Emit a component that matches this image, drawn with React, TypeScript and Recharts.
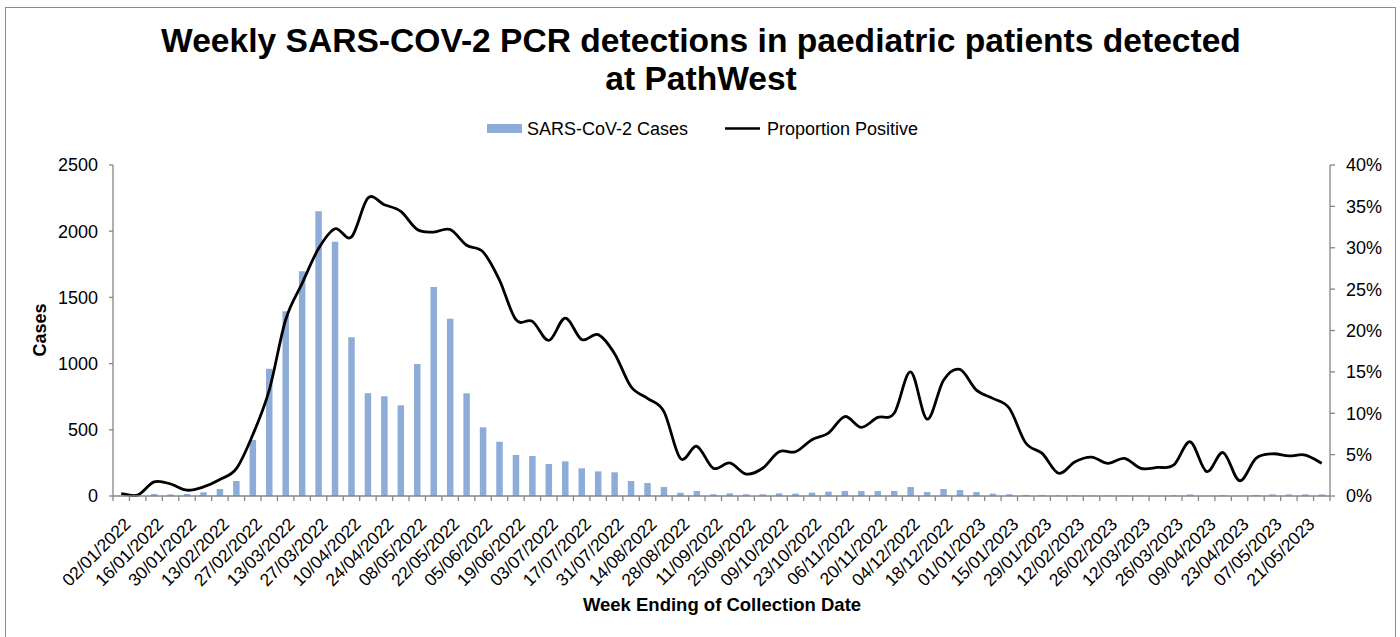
import React from 'react';
import { ComposedChart, Bar, Line, XAxis, YAxis } from 'recharts';

// week ending dates (Sundays)
const weeks = [
  '02/01/2022', '09/01/2022', '16/01/2022', '23/01/2022', '30/01/2022', '06/02/2022', '13/02/2022', '20/02/2022',
  '27/02/2022', '06/03/2022', '13/03/2022', '20/03/2022', '27/03/2022', '03/04/2022', '10/04/2022', '17/04/2022',
  '24/04/2022', '01/05/2022', '08/05/2022', '15/05/2022', '22/05/2022', '29/05/2022', '05/06/2022', '12/06/2022',
  '19/06/2022', '26/06/2022', '03/07/2022', '10/07/2022', '17/07/2022', '24/07/2022', '31/07/2022', '07/08/2022',
  '14/08/2022', '21/08/2022', '28/08/2022', '04/09/2022', '11/09/2022', '18/09/2022', '25/09/2022', '02/10/2022',
  '09/10/2022', '16/10/2022', '23/10/2022', '30/10/2022', '06/11/2022', '13/11/2022', '20/11/2022', '27/11/2022',
  '04/12/2022', '11/12/2022', '18/12/2022', '25/12/2022', '01/01/2023', '08/01/2023', '15/01/2023', '22/01/2023',
  '29/01/2023', '05/02/2023', '12/02/2023', '19/02/2023', '26/02/2023', '05/03/2023', '12/03/2023', '19/03/2023',
  '26/03/2023', '02/04/2023', '09/04/2023', '16/04/2023', '23/04/2023', '30/04/2023', '07/05/2023', '14/05/2023',
  '21/05/2023', '28/05/2023',
];

const cases = [
  2, 3, 15, 12, 15, 28, 53, 113, 423, 961, 1395, 1697, 2150, 1921, 1199, 776,
  753, 685, 997, 1579, 1339, 776, 519, 410, 310, 302, 242, 262, 209, 186, 179, 113,
  98, 68, 25, 38, 13, 20, 13, 13, 20, 18, 25, 33, 38, 38, 38, 38,
  68, 30, 53, 45, 30, 18, 13, 8, 8, 5, 6, 5, 5, 5, 3, 3,
  6, 12, 3, 6, 3, 8, 12, 12, 12, 12,
];

// % positive
const proportion = [
  0.3, 0.1, 1.7, 1.45, 0.7, 1.1, 2.0, 3.3, 7.4, 12.8, 21.3, 25.7, 29.9, 32.3, 31.3, 36.0,
  35.2, 34.4, 32.2, 31.9, 32.2, 30.3, 29.5, 26.1, 21.3, 21.1, 18.8, 21.5, 18.9, 19.5, 17.2, 13.2,
  11.8, 10.2, 4.55, 6.0, 3.35, 4.0, 2.65, 3.35, 5.35, 5.35, 6.8, 7.6, 9.6, 8.3, 9.5, 10.0,
  15.0, 9.3, 14.0, 15.3, 12.8, 11.8, 10.6, 6.4, 5.15, 2.75, 4.15, 4.7, 3.95, 4.55, 3.35, 3.45,
  3.75, 6.55, 2.95, 5.25, 1.85, 4.55, 5.1, 4.85, 4.95, 3.95,
];

const caseTicks = [0, 500, 1000, 1500, 2000, 2500];
const pctTicks = [0, 5, 10, 15, 20, 25, 30, 35, 40];

const data = weeks.map((week, i) => ({ week, cases: cases[i], pct: proportion[i] }));

const FONT = '"Liberation Sans", Arial, sans-serif';
const AXIS = '#868686';
const BAR = '#8EACD8';
const PLOT_L = 113;
const PLOT_R = 1330;
const PLOT_B = 496;
const BAND = (PLOT_R - PLOT_L) / weeks.length;

// excel-style smoothed line (catmull-rom through the points)
const smoothCurve = (context: any) => {
  let pts: number[][] = [];
  return {
    areaStart() {},
    areaEnd() {},
    lineStart() {
      pts = [];
    },
    point(x: number, y: number) {
      pts.push([+x, +y]);
    },
    lineEnd() {
      if (!pts.length) return;
      context.moveTo(pts[0][0], pts[0][1]);
      for (let i = 0; i < pts.length - 1; i++) {
        const p0 = pts[i - 1] || pts[i];
        const p1 = pts[i];
        const p2 = pts[i + 1];
        const p3 = pts[i + 2] || p2;
        const t = 1 / 6;
        context.bezierCurveTo(
          p1[0] + (p2[0] - p0[0]) * t,
          p1[1] + (p2[1] - p0[1]) * t,
          p2[0] - (p3[0] - p1[0]) * t,
          p2[1] - (p3[1] - p1[1]) * t,
          p2[0],
          p2[1]
        );
      }
    },
  };
};

function WeekTick(props: any) {
  const { x, payload, index } = props;
  const left = x - BAND / 2;
  const tx = x + 6;
  const ty = 521;
  return (
    <g>
      <line x1={left} x2={left} y1={PLOT_B} y2={PLOT_B + 5} stroke={AXIS} strokeWidth={1.3} />
      {index === weeks.length - 1 && (
        <line x1={x + BAND / 2} x2={x + BAND / 2} y1={PLOT_B} y2={PLOT_B + 5} stroke={AXIS} strokeWidth={1.3} />
      )}
      {index % 2 === 0 && (
        <text
          x={tx}
          y={ty}
          dy="0.35em"
          textAnchor="end"
          transform={`rotate(-45 ${tx} ${ty})`}
          fontSize={17.5}
          fontFamily={FONT}
          fill="#000"
        >
          {payload.value}
        </text>
      )}
    </g>
  );
}

export default function App() {
  const tickStyle = { fontSize: 18, fill: '#000', fontFamily: FONT };
  return (
    <div style={{ position: 'fixed', left: 0, top: 0, width: 1400, height: 637, background: '#fff', overflow: 'hidden' }}>
      <div
        style={{
          position: 'absolute',
          left: 5,
          top: 7,
          width: 1389,
          height: 660,
          border: '1.5px solid #8c8c8c',
        }}
      />
      <div style={{ position: 'absolute', left: 0, top: 0 }}>
        <ComposedChart width={1400} height={637} data={data} margin={{ top: 165, right: 0, bottom: 0, left: 0 }}>
          <XAxis
            dataKey="week"
            height={141}
            interval={0}
            tickLine={false}
            axisLine={{ stroke: AXIS, strokeWidth: 1.3 }}
            tick={<WeekTick />}
          />
          <YAxis
            yAxisId="l"
            domain={[0, 2500]}
            ticks={caseTicks}
            interval={0}
            width={113}
            tickSize={4}
            tickMargin={11}
            axisLine={{ stroke: AXIS, strokeWidth: 1.3 }}
            tickLine={{ stroke: AXIS, strokeWidth: 1.3 }}
            tick={tickStyle}
          />
          <YAxis
            yAxisId="r"
            orientation="right"
            domain={[0, 40]}
            ticks={pctTicks}
            interval={0}
            width={70}
            tickSize={5}
            tickMargin={11}
            tickFormatter={(v: number) => `${v}%`}
            axisLine={{ stroke: AXIS, strokeWidth: 1.3 }}
            tickLine={{ stroke: AXIS, strokeWidth: 1.3 }}
            tick={tickStyle}
          />
          <Bar yAxisId="l" dataKey="cases" fill={BAR} barSize={6.5} isAnimationActive={false} />
          <Line
            yAxisId="r"
            dataKey="pct"
            type={smoothCurve as any}
            stroke="#000"
            strokeWidth={2.8}
            dot={false}
            activeDot={false}
            isAnimationActive={false}
          />
        </ComposedChart>
      </div>
      <svg width={1400} height={637} style={{ position: 'absolute', left: 0, top: 0, pointerEvents: 'none' }}>
        <g fontFamily={FONT} fill="#000">
          <text x={701} y={52} textAnchor="middle" fontSize={33.6} fontWeight="bold">
            Weekly SARS-COV-2 PCR detections in paediatric patients detected
          </text>
          <text x={701} y={90} textAnchor="middle" fontSize={33.6} fontWeight="bold">
            at PathWest
          </text>
          <rect x={487} y={124} width={35} height={9} fill={BAR} />
          <text x={527} y={135} fontSize={18}>SARS-CoV-2 Cases</text>
          <line x1={725} x2={760} y1={128.5} y2={128.5} stroke="#000" strokeWidth={2.5} />
          <text x={767} y={135} fontSize={18}>Proportion Positive</text>
          <text x={722} y={611} textAnchor="middle" fontSize={18.5} fontWeight="bold">
            Week Ending of Collection Date
          </text>
          <text
            x={40}
            y={330}
            textAnchor="middle"
            dominantBaseline="central"
            transform="rotate(-90 40 330)"
            fontSize={18}
            fontWeight="bold"
          >
            Cases
          </text>
        </g>
      </svg>
    </div>
  );
}
